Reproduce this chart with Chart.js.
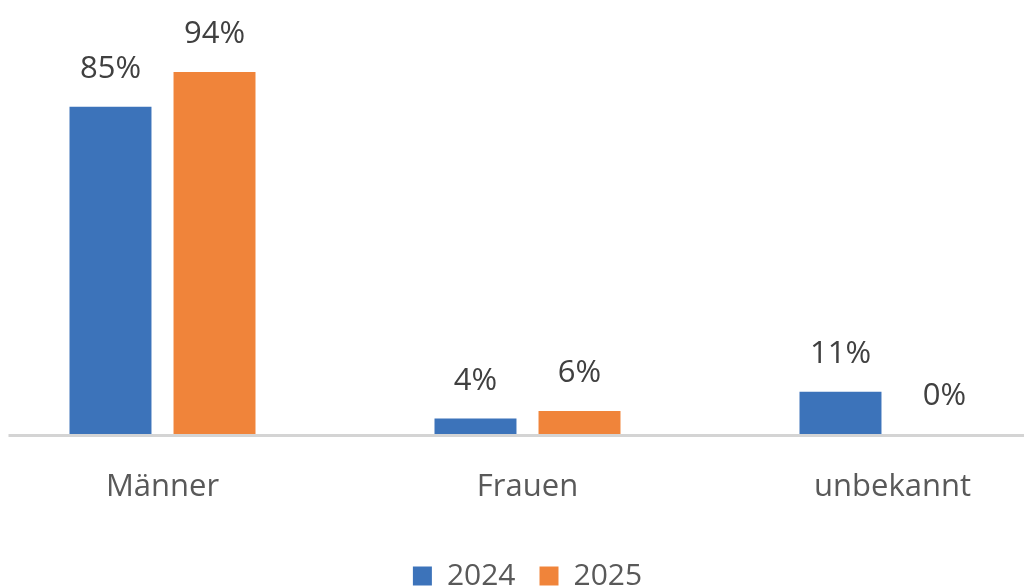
<!DOCTYPE html>
<html>
<head>
<meta charset="utf-8">
<script src="https://cdn.jsdelivr.net/npm/chart.js@4"></script>
<style>
  html, body { margin: 0; padding: 0; background: #fff; overflow: hidden; }
  #wrap { position: absolute; left: -20.5px; top: 0; width: 1095px; height: 601px; }
</style>
</head>
<body>
<div id="wrap"><canvas id="bar"></canvas></div>
<script>
// data
const categories = ['Männer', 'Frauen', 'unbekannt'];
const years = ['2024', '2025'];
const values2024 = [85, 4, 11];
const values2025 = [94, 6, 0];

const FONT = '"Open Sans", "DejaVu Sans", sans-serif';

// value labels above each bar
const valueLabels = {
  id: 'valueLabels',
  afterDatasetsDraw(chart) {
    const ctx = chart.ctx;
    ctx.save();
    ctx.font = '31px ' + FONT;
    ctx.fillStyle = '#404040';
    ctx.textAlign = 'center';
    ctx.textBaseline = 'alphabetic';
    chart.data.datasets.forEach((ds, i) => {
      chart.getDatasetMeta(i).data.forEach((bar, j) => {
        ctx.fillText(ds.data[j] + '%', bar.x, bar.y - 29);
      });
    });
    ctx.restore();
  }
};

// grey baseline, starts a bit right of the page edge like the original
const baseline = {
  id: 'baseline',
  afterDatasetsDraw(chart) {
    const ctx = chart.ctx;
    const y = chart.chartArea.bottom + 1.5;
    ctx.save();
    ctx.strokeStyle = '#d4d4d4';
    ctx.lineWidth = 3;
    ctx.beginPath();
    ctx.moveTo(28.5, y);
    ctx.lineTo(chart.width, y);
    ctx.stroke();
    ctx.restore();
  }
};

const data = {
  labels: categories,
  datasets: [
    {
      label: years[0],
      data: values2024,
      backgroundColor: '#3c73ba',
      categoryPercentage: 0.57,
      barPercentage: 0.788
    },
    {
      label: years[1],
      data: values2025,
      backgroundColor: '#f0843a',
      categoryPercentage: 0.57,
      barPercentage: 0.788
    }
  ]
};

const config = {
  type: 'bar',
  data: data,
  options: {
    responsive: true,
    maintainAspectRatio: false,
    animation: false,
    layout: { padding: { top: 49, left: 0, right: 0, bottom: 0 } },
    plugins: {
      tooltip: { enabled: false },
      legend: {
        position: 'bottom',
        labels: {
          color: '#595959',
          font: { family: FONT, size: 30 },
          boxWidth: 19,
          boxHeight: 19,
          padding: 24
        }
      }
    },
    scales: {
      x: {
        grid: { display: false },
        border: { display: false },
        ticks: {
          color: '#595959',
          font: { family: FONT, size: 31 },
          padding: 27
        },
        afterFit(scale) { scale.height = 103; }
      },
      y: {
        display: false,
        min: 0,
        max: 100
      }
    }
  },
  plugins: [valueLabels, baseline]
};

const chart = new Chart('bar', config);
</script>
</body>
</html>
